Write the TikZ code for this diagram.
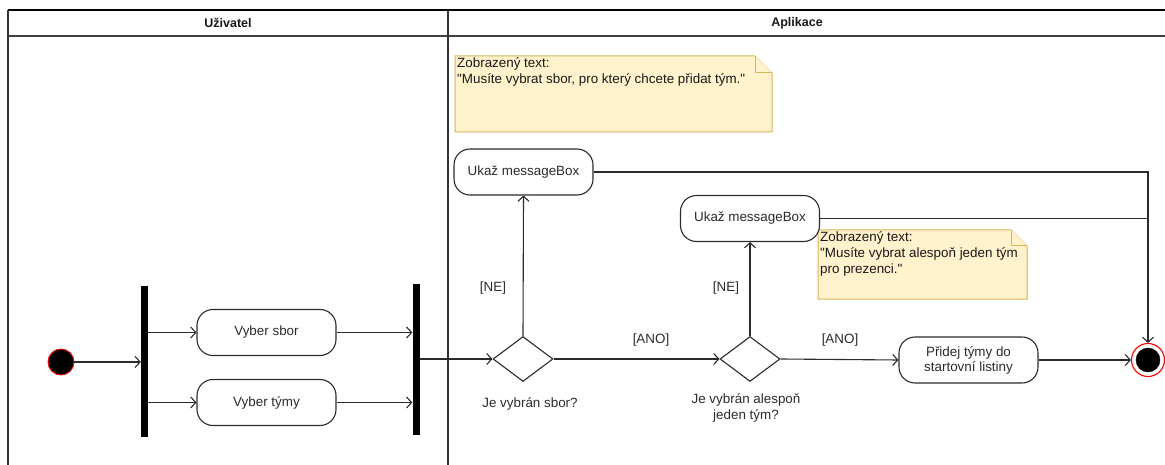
\documentclass[tikz,border=0pt]{standalone}
\usepackage{fontspec}
\setmainfont{Liberation Sans}[Ligatures=TeXOff]
\usetikzlibrary{arrows.meta,shapes.geometric}
\definecolor{notefill}{HTML}{FFF2CC}
\definecolor{noteline}{HTML}{D6B656}
\definecolor{endred}{HTML}{FF0000}
\definecolor{ink}{HTML}{2B2B2B}

\begin{document}
\begin{tikzpicture}[x=1pt,y=-1pt,
  every node/.style={font=\fontsize{13.4}{16}\selectfont, text=ink},
  line/.style={draw=ink, line width=1.1pt},
  flow/.style={line, -{Straight Barb[length=5pt,width=11pt,line width=1.1pt]}},
  action/.style={draw=ink, line width=1.1pt, rounded corners=16pt, minimum width=139pt,
    minimum height=46pt, fill=white, align=center, inner sep=2pt},
  bar/.style={fill=black, draw=none, minimum width=7pt, inner sep=0pt},
  decision/.style={diamond, draw=ink, line width=1.1pt, minimum width=60pt,
    minimum height=45pt, inner sep=0pt, fill=white},
  note/.style={fill=notefill, draw=noteline, line width=1pt, line join=miter},
  notetext/.style={anchor=north west, align=left, inner sep=0pt, text=black!90},
  lanehead/.style={font=\fontsize{12.5}{15}\selectfont\bfseries, text=black!90},
  guard/.style={inner sep=1pt},
]
\useasboundingbox (0,0) rectangle (1165,465);

% swimlanes
\draw[line width=1.6pt, black] (8,10) -- (1165,10);
\draw[line width=1.1pt, black!75] (8,36) -- (1165,36);
\draw[line width=1.1pt, black!80] (8,10) -- (8,465);
\draw[line width=1.1pt, black!80] (448,10) -- (448,465);
\node[lanehead] (laneU) at (228,23) {Uživatel};
\node[lanehead] (laneA) at (797,23) {Aplikace};

% notes
\draw[note] (455,56) -- (755,56) -- (772,73) -- (772,132) -- (455,132) -- cycle;
\draw[note] (755,56) -- (755,73) -- (772,73);
\node[notetext] (note1) at (457,57) {Zobrazený text:\\"Musíte vybrat sbor, pro který chcete přidat tým."};

\draw[note] (818,230) -- (1011,230) -- (1027,246) -- (1027,299) -- (818,299) -- cycle;
\draw[note] (1011,230) -- (1011,246) -- (1027,246);
\node[notetext] (note2) at (820,231) {Zobrazený text:\\"Musíte vybrat alespoň jeden tým\\pro prezenci."};

% user lane
\node[circle, fill=black, draw=endred, line width=0.9pt, minimum size=26pt, inner sep=0pt] (init) at (61,362) {};
\node[bar, minimum height=151pt] (fork) at (144.5,361.5) {};
\node[action] (sbor) at (266.5,332.5) {Vyber sbor};
\node[action] (tymy) at (266.5,402.5) {Vyber týmy};
\node[bar, minimum height=151pt] (join) at (416,359.5) {};

% application lane
\node[decision] (d1) at (523,359) {};
\node[decision] (d2) at (750,359) {};
\node (q1) at (530,404) {Je vybrán sbor?};
\node[align=center] (q2) at (746,408) {Je vybrán alespoň\\jeden tým?};
\node[action] (mb1) at (523.5,172) {Ukaž messageBox};
\node[action] (mb2) at (750,218.5) {Ukaž messageBox};
\node[action] (add) at (968.5,360) {Přidej týmy do\\[-1pt]startovní listiny};
\node[circle, draw=endred, line width=1.1pt, fill=white, minimum size=33pt, inner sep=0pt] (fin) at (1148,360) {};
\node[circle, fill=black, draw=black, minimum size=24pt, inner sep=0pt] (finc) at (fin) {};

% guards
\node[guard] (ne1) at (493,288) {[NE]};
\node[guard] (ne2) at (726,288) {[NE]};
\node[guard] (ano1) at (651,340) {[ANO]};
\node[guard] (ano2) at (840,340) {[ANO]};

% flows
\draw[flow] (init) -- (init -| fork.west);
\draw[flow] (fork.east |- sbor) -- (sbor.west);
\draw[flow] (fork.east |- tymy) -- (tymy.west);
\draw[flow] (sbor.east) -- (sbor -| join.west);
\draw[flow] (tymy.east) -- (tymy -| join.west);
\draw[flow] (join.east |- d1) -- (d1.west);
\draw[flow] (d1.east) -- (d2.west);
\draw[flow] (d1.north) -- (mb1.south);
\draw[flow] (d2.north) -- (mb2.south);
\draw[flow] (d2.east) -- (add.west);
\draw[flow] (add.east) -- (fin.west);
\draw[flow] (mb1.east) -| (fin.north);
\draw[line] (mb2.east) -- (mb2.east -| fin);
\end{tikzpicture}
\end{document}
